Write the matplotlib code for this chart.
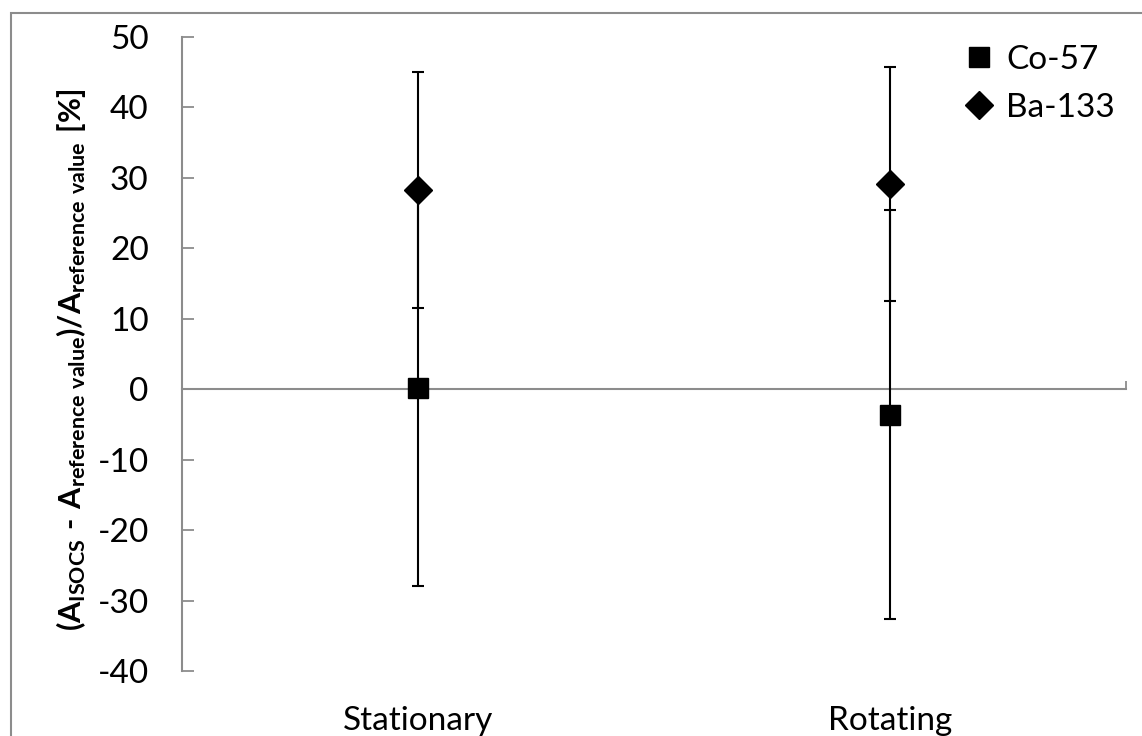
import matplotlib
matplotlib.use("Agg")
import matplotlib.pyplot as plt
from matplotlib.lines import Line2D
from matplotlib.patches import Rectangle

plt.rcParams['font.family'] = ['Lato', 'DejaVu Sans']
plt.rcParams['mathtext.fontset'] = 'custom'
plt.rcParams['mathtext.rm'] = 'Lato'
plt.rcParams['mathtext.bf'] = 'Lato:bold'
plt.rcParams['axes.unicode_minus'] = False

# DATA
categories = ["Stationary", "Rotating"]
co57 = [0.2, -3.6]
co57_err = [28.1, 29.0]
ba133 = [28.3, 29.1]
ba133_err = [16.7, 16.6]

x = [1, 2]
gray = '#8c8c8c'

fig = plt.figure(figsize=(11.42, 7.36), dpi=100)
ax = fig.add_axes([182 / 1142, 1 - 671 / 736, (1126 - 182) / 1142, (671 - 37) / 736])

# figure border
fig.patches.append(Rectangle((11 / 1142, -0.05), 1.2, 1 - 13 / 736 + 0.05,
                             transform=fig.transFigure, fill=False,
                             edgecolor=gray, lw=1.5))

ax.errorbar(x, co57, yerr=co57_err, fmt='s', color='black', ms=14.5,
            ecolor='black', elinewidth=1.5, capsize=4.3, capthick=1.5, zorder=3)
ax.errorbar(x, ba133, yerr=ba133_err, fmt='D', color='black', ms=14,
            ecolor='black', elinewidth=1.5, capsize=4.3, capthick=1.5, zorder=3)

ax.set_xlim(0.5, 2.5)
ax.set_ylim(-40, 50)
ax.set_yticks(range(-40, 51, 10))

# spines
for s in ['top', 'right', 'bottom']:
    ax.spines[s].set_visible(False)
ax.spines['left'].set_color(gray)
ax.spines['left'].set_linewidth(1.5)
ax.tick_params(axis='y', direction='in', length=8.5, width=1.3, color=gray,
               labelsize=24, pad=24)

# category labels at the bottom
ax.set_xticks(x)
ax.set_xticklabels(categories)
ax.tick_params(axis='x', length=0, labelsize=24, pad=25)

# horizontal axis line at zero
zero = ax.secondary_xaxis(40 / 90)
zero.set_xticks([2.5])
zero.set_xticklabels([])
zero.spines['bottom'].set_color(gray)
zero.spines['bottom'].set_linewidth(1.5)
zero.tick_params(direction='in', length=6, width=1.3, color=gray)

ax.set_ylabel('$\\mathbf{(A_{ISOCS}\\ \u2010\\ A_{reference\\ value})/A_{reference\\ value}\\ [\\%]}$',
              fontsize=22)
ax.yaxis.set_label_coords(-0.1, 0.49)

handles = [Line2D([], [], marker='s', ls='none', color='black', ms=14.5),
           Line2D([], [], marker='D', ls='none', color='black', ms=14)]
ax.legend(handles, ['Co-57', 'Ba-133'], loc='upper right', frameon=False,
          fontsize=24, handlelength=0.8, handletextpad=0.4, labelspacing=0.55,
          bbox_to_anchor=(1.02, 1.035))

fig.savefig('out.png', dpi=100)
